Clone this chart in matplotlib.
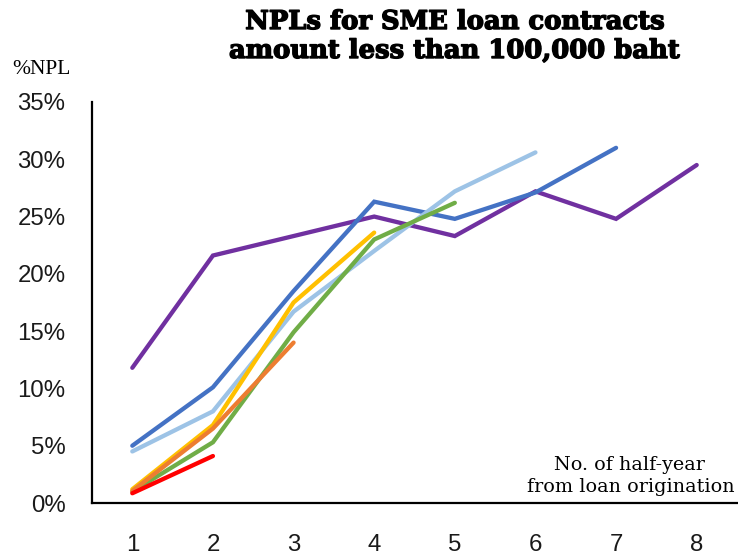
import matplotlib
matplotlib.use("Agg")
import matplotlib.pyplot as plt
import matplotlib.patheffects as pe
from matplotlib.ticker import FuncFormatter

# Half-year periods since loan origination
periods = [1, 2, 3, 4, 5, 6, 7, 8]

# %NPL by origination cohort (oldest to newest)
cohort_1 = [11.8, 21.6, 23.3, 25.0, 23.3, 27.2, 24.8, 29.5]
cohort_2 = [5.0, 10.1, 18.5, 26.3, 24.8, 27.1, 31.0]
cohort_3 = [4.5, 8.0, 16.7, 22.0, 27.2, 30.6]
cohort_4 = [1.0, 5.3, 14.9, 23.0, 26.2]
cohort_5 = [1.2, 6.8, 17.5, 23.6]
cohort_6 = [1.05, 6.5, 14.0]
cohort_7 = [0.85, 4.1]

cohorts = [cohort_1, cohort_2, cohort_3, cohort_4, cohort_5, cohort_6, cohort_7]
colors = ["#7030A0", "#4472C4", "#9DC3E6", "#70AD47", "#FFC000", "#ED7D31", "#FF0000"]

y_ticks = [0, 5, 10, 15, 20, 25, 30, 35]

fig = plt.figure(figsize=(7.38, 5.59), dpi=100)
ax = fig.add_axes([92 / 738, 1 - 503 / 559, (737 - 92) / 738, (503 - 102) / 559])

for values, color in zip(cohorts, colors):
    ax.plot(periods[:len(values)], values, color=color, lw=3.1,
            solid_capstyle="round", solid_joinstyle="miter")

ax.set_xlim(0.5, 8.5)
ax.set_ylim(0, 35)
ax.set_xticks(periods)
ax.set_yticks(y_ticks)
ax.yaxis.set_major_formatter(FuncFormatter(lambda v, _: f"{v:.0f}%"))

ax.tick_params(axis="both", length=0)
ax.tick_params(axis="y", pad=19)
ax.tick_params(axis="x", pad=22)
for lbl in ax.get_xticklabels() + ax.get_yticklabels():
    lbl.set_fontfamily("Liberation Sans")
    lbl.set_fontsize(17.3)
    lbl.set_color("#1a1a1a")

for side in ("top", "right"):
    ax.spines[side].set_visible(False)
for side in ("left", "bottom"):
    ax.spines[side].set_color("black")
    ax.spines[side].set_linewidth(1.6)

fig.text(455 / 738, 1 - 36 / 559,
         "NPLs for SME loan contracts\namount less than 100,000 baht",
         ha="center", va="center", family="DejaVu Serif", weight="bold",
         size=18.6, linespacing=1.2, color="black",
         path_effects=[pe.withStroke(linewidth=1.0, foreground="black")])

fig.text(12 / 738, 1 - 70 / 559, "%NPL", ha="left", va="center",
         family="Liberation Serif", size=15.5, color="black")

fig.text(629 / 738, 1 - 465 / 559, "No. of half-year", ha="center", va="center",
         family="DejaVu Serif", size=13.8, color="black")
fig.text(735 / 738, 1 - 487 / 559, "from loan origination", ha="right", va="center",
         family="DejaVu Serif", size=13.8, color="black")

fig.savefig("out.png", dpi=100, facecolor="white")
